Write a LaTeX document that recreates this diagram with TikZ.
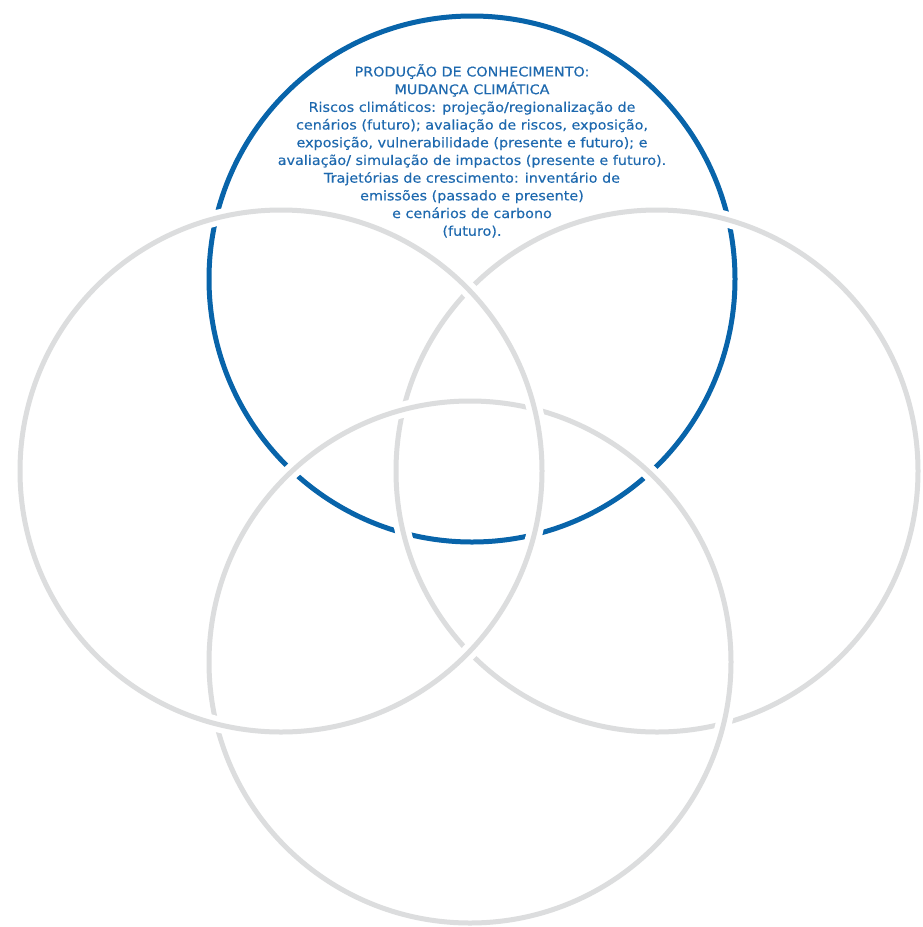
\documentclass[tikz,border=0pt]{standalone}
\usepackage{fontspec}
\setmainfont{DejaVu Sans}[FakeStretch=1.08,FakeBold=0.3]
\definecolor{cblue}{RGB}{8,100,170}
\definecolor{ctext}{RGB}{30,105,175}
\definecolor{cgray}{RGB}{220,221,222}
\tikzset{
  bluering/.style={draw=cblue, line width=5pt},
  halo/.style={draw=white, line width=16pt},
  grayring/.style={draw=cgray, line width=5pt},
  infotext/.style={text=ctext, align=center, font=\fontsize{13.3}{17.7}\selectfont, inner sep=0pt}
}
\begin{document}
\begin{tikzpicture}[x=1pt,y=-1pt]
\useasboundingbox (0,0) rectangle (922,927);
\fill[white] (0,0) rectangle (922,927);
\coordinate (cB) at (472,279);
\coordinate (cR) at (657,471);
\coordinate (cD) at (470,662);
\coordinate (cL) at (281,471);
\draw[bluering] (cB) circle[radius=263];
\foreach \c in {cR,cD,cL}{
  \draw[halo] (\c) circle[radius=261];
  \draw[grayring] (\c) circle[radius=261];
}
\node[infotext, anchor=north] (txt) at (472,64) {PRODUÇÃO DE CONHECIMENTO:\\
MUDANÇA CLIMÁTICA\\
Riscos climáticos: projeção/regionalização de\\
cenários (futuro); avaliação de riscos, exposição,\\
exposição, vulnerabilidade (presente e futuro); e\\
avaliação/ simulação de impactos (presente e futuro).\\
Trajetórias de crescimento: inventário de\\
emissões (passado e presente)\\
e cenários de carbono\\
(futuro).};
\end{tikzpicture}
\end{document}
